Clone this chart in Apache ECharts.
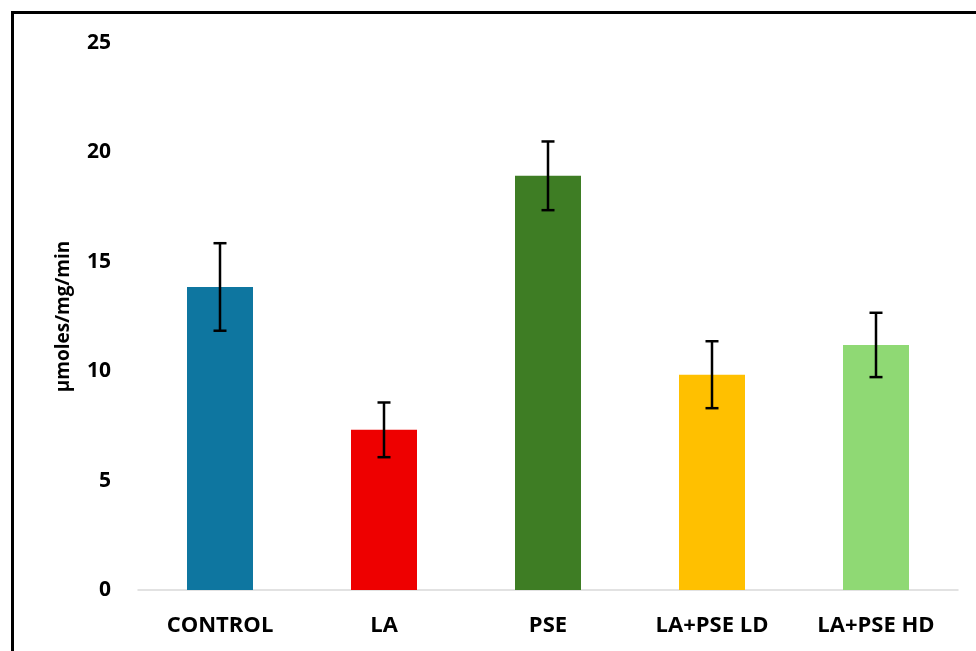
<!DOCTYPE html>
<html>
<head>
<meta charset="utf-8">
<title>µmoles/mg/min</title>
<script src="https://cdn.jsdelivr.net/npm/echarts@6/dist/echarts.min.js"></script>
<style>
  html, body { margin: 0; padding: 0; background: #fff; overflow: hidden; }
  #main { width: 976px; height: 651px; }
  #frame {
    position: absolute; left: 11px; top: 11px; width: 1000px; height: 700px;
    border-top: 3px solid #000; border-left: 3px solid #000; pointer-events: none;
  }
</style>
</head>
<body>
<div id="main"></div>
<div id="frame"></div>
<script>
// groups on the x axis
var categories = ['CONTROL', 'LA', 'PSE', 'LA+PSE LD', 'LA+PSE HD'];
// mean values
var values = [13.85, 7.32, 18.93, 9.84, 11.2];
// +/- error
var errors = [2.0, 1.25, 1.57, 1.53, 1.47];
var barColors = ['#0E76A0', '#EE0000', '#3E7D24', '#FFC000', '#8FD974'];
var yTicks = [0, 5, 10, 15, 20, 25];

var chart = echarts.init(document.getElementById('main'));

var errData = values.map(function (v, i) {
  return [i, v - errors[i], v + errors[i]];
});

var font = '"Open Sans", "Noto Sans", sans-serif';

chart.setOption({
  animation: false,
  grid: { left: 138, right: 18, top: 43, bottom: 61 },
  xAxis: {
    type: 'category',
    data: categories,
    axisLine: { lineStyle: { color: '#d9d9d9', width: 1.5 } },
    axisTick: { show: false },
    axisLabel: {
      color: '#000', fontFamily: font, fontWeight: 'bold', fontSize: 22, margin: 25
    }
  },
  yAxis: {
    type: 'value',
    min: yTicks[0],
    max: yTicks[yTicks.length - 1],
    interval: 5,
    name: 'µmoles/mg/min',
    nameLocation: 'middle',
    nameRotate: 90,
    nameGap: 65,
    nameTextStyle: { color: '#000', fontFamily: font, fontWeight: 'bold', fontSize: 19 },
    axisLine: { show: false },
    axisTick: { show: false },
    splitLine: { show: false },
    axisLabel: {
      color: '#000', fontFamily: font, fontWeight: 'bold', fontSize: 21, margin: 27
    }
  },
  series: [
    {
      type: 'bar',
      data: values.map(function (v, i) {
        return { value: v, itemStyle: { color: barColors[i] } };
      }),
      barWidth: 66
    },
    {
      type: 'custom',
      data: errData,
      z: 10,
      renderItem: function (params, api) {
        var x = api.value(0);
        var lo = api.coord([x, api.value(1)]);
        var hi = api.coord([x, api.value(2)]);
        var cap = 6.5;
        var style = { stroke: '#000', lineWidth: 2.5 };
        return {
          type: 'group',
          children: [
            { type: 'line', shape: { x1: hi[0], y1: hi[1], x2: lo[0], y2: lo[1] }, style: style },
            { type: 'line', shape: { x1: hi[0] - cap, y1: hi[1], x2: hi[0] + cap, y2: hi[1] }, style: style },
            { type: 'line', shape: { x1: lo[0] - cap, y1: lo[1], x2: lo[0] + cap, y2: lo[1] }, style: style }
          ]
        };
      }
    }
  ]
});
</script>
</body>
</html>
